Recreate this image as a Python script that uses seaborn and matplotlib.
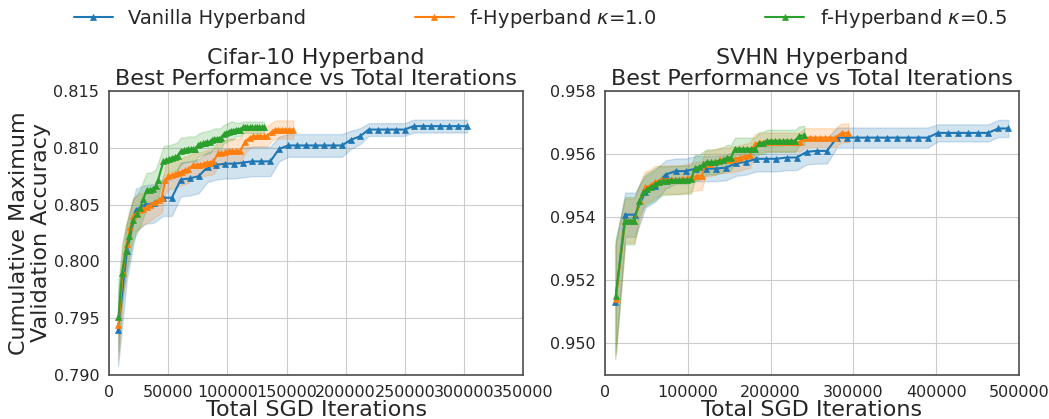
"""Cumulative best validation accuracy vs. total SGD iterations for Hyperband variants."""

import matplotlib
matplotlib.use("Agg")
import matplotlib.pyplot as plt
import numpy as np
import seaborn as sns

LABELS = ["Vanilla Hyperband", r"f-Hyperband $\kappa$=1.0", r"f-Hyperband $\kappa$=0.5"]
COLORS = ["#1f77b4", "#ff7f0e", "#2ca02c"]

# ---- Cifar-10 (x in thousands of SGD iterations) ----
CIFAR_VAN_X = [7.6, 15.1, 22.7, 30.3, 37.9, 45.4, 53.0, 60.6, 68.1, 75.7,
               83.3, 90.8, 98.4, 106.0, 113.6, 121.1, 128.7, 136.3, 143.8, 151.4,
               159.0, 166.5, 174.1, 181.7, 189.3, 196.8, 204.4, 212.0, 219.5, 227.1,
               234.7, 242.2, 249.8, 257.4, 265.0, 272.5, 280.1, 287.7, 295.2, 302.8]
CIFAR_VAN_Y = [0.7940, 0.8009, 0.8045, 0.8050, 0.8051, 0.8056, 0.8056, 0.8072, 0.8073, 0.8075,
               0.8083, 0.8085, 0.8086, 0.8086, 0.8087, 0.8088, 0.8088, 0.8088, 0.8099, 0.8102,
               0.8102, 0.8102, 0.8102, 0.8102, 0.8102, 0.8102, 0.8107, 0.8110, 0.8116, 0.8116,
               0.8116, 0.8116, 0.8116, 0.8119, 0.8119, 0.8119, 0.8119, 0.8119, 0.8119, 0.8119]
CIFAR_VAN_SD = [0.0032, 0.0024, 0.0019, 0.0017, 0.0017, 0.0016, 0.0016, 0.0015, 0.0015, 0.0015,
                0.0013, 0.0013, 0.0013, 0.0013, 0.0013, 0.0013, 0.0013, 0.0013, 0.0011, 0.0010,
                0.0010, 0.0010, 0.0010, 0.0010, 0.0010, 0.0010, 0.0008, 0.0007, 0.00056, 0.00056,
                0.00056, 0.00056, 0.00056, 0.00056, 0.00056, 0.00056, 0.00056, 0.00056, 0.00056, 0.00056]

CIFAR_K10_X = [7.9, 11.5, 15.0, 18.0, 20.5, 23.5, 26.2, 29.0, 31.9, 35.0,
               38.9, 42.0, 44.5, 47.5, 50.1, 53.0, 55.8, 58.5, 61.4, 64.0,
               67.0, 71.2, 74.0, 76.9, 80.0, 82.6, 85.5, 88.1, 92.4, 95.0,
               98.0, 101.0, 103.7, 107.0, 110.7, 114.9, 119.1, 122.0, 124.8, 128.0,
               131.0, 133.3, 137.5, 140.5, 143.1, 146.0, 149.0, 152.0, 155.7]
CIFAR_K10_Y = [0.7944, 0.7990, 0.8015, 0.8030, 0.8040, 0.8043, 0.8045, 0.8046, 0.8048, 0.8050,
               0.8052, 0.8054, 0.8056, 0.8072, 0.8075, 0.8076, 0.8077, 0.8078, 0.8079, 0.8080,
               0.8081, 0.8085, 0.8085, 0.8085, 0.8086, 0.8087, 0.8087, 0.8088, 0.8095, 0.8095,
               0.8096, 0.8097, 0.8097, 0.8097, 0.8097, 0.8105, 0.8109, 0.8110, 0.8110, 0.8110,
               0.8110, 0.8110, 0.8114, 0.8116, 0.8116, 0.8116, 0.8116, 0.8116, 0.8116]
CIFAR_K10_SD = [0.0030, 0.0026, 0.0020, 0.0018, 0.0016, 0.0015, 0.0015, 0.0014, 0.0014, 0.0014,
                0.0013, 0.0013, 0.0013, 0.0012, 0.0012, 0.0012, 0.0012, 0.0012, 0.0012, 0.0012,
                0.0012, 0.0011, 0.0011, 0.0011, 0.0011, 0.0011, 0.0011, 0.0011, 0.0011, 0.0011,
                0.0011, 0.0011, 0.0011, 0.0011, 0.0011, 0.0010, 0.0009, 0.0009, 0.0009, 0.0009,
                0.0009, 0.0009, 0.0008, 0.0008, 0.0008, 0.0008, 0.0008, 0.0008, 0.0008]

CIFAR_K05_X = [7.9, 11.0, 14.0, 17.0, 20.0, 23.5, 26.2, 29.0, 31.9, 34.5,
               37.0, 39.5, 41.5, 45.9, 48.0, 50.5, 53.0, 56.0, 58.0, 60.5,
               63.0, 65.0, 67.0, 69.0, 71.0, 73.0, 75.0, 77.0, 79.0, 81.0,
               83.0, 85.0, 87.0, 89.0, 91.0, 93.0, 95.0, 97.0, 99.0, 101.0,
               103.0, 105.0, 107.0, 109.0, 111.0, 113.0, 115.0, 117.0, 119.0, 121.0,
               123.0, 125.0, 127.0, 129.0, 131.0]
CIFAR_K05_Y = [0.7951, 0.7990, 0.8009, 0.8022, 0.8036, 0.8042, 0.8047, 0.8055, 0.8063, 0.8063,
               0.8064, 0.8066, 0.8072, 0.8088, 0.8089, 0.8090, 0.8091, 0.8092, 0.8093, 0.8097,
               0.8098, 0.8098, 0.8099, 0.8099, 0.8099, 0.8099, 0.8102, 0.8103, 0.8104, 0.8104,
               0.8105, 0.8105, 0.8107, 0.8108, 0.8108, 0.8108, 0.8109, 0.8112, 0.8113, 0.8114,
               0.8115, 0.8115, 0.8116, 0.8116, 0.8116, 0.8118, 0.8118, 0.8118, 0.8118, 0.8118,
               0.8118, 0.8118, 0.8118, 0.8118, 0.8118]
CIFAR_K05_SD = [0.0030, 0.0025, 0.0022, 0.0020, 0.0018, 0.0017, 0.0016, 0.0016, 0.0015, 0.0015,
                0.0015, 0.0015, 0.0015, 0.0013, 0.0013, 0.0012, 0.0012, 0.0012, 0.0012, 0.0012,
                0.0011, 0.0011, 0.0011, 0.0011, 0.0011, 0.0011, 0.0010, 0.0010, 0.0010, 0.0010,
                0.0010, 0.0010, 0.0009, 0.0009, 0.0009, 0.0009, 0.0009, 0.0008, 0.0008, 0.0008,
                0.0008, 0.0008, 0.0006, 0.0006, 0.0006, 0.0005, 0.0005, 0.0005, 0.0005, 0.0005,
                0.0005, 0.0005, 0.0005, 0.0005, 0.0005]

# ---- SVHN ----
SVHN_VAN_X = [12.2, 24.4, 36.5, 48.7, 60.9, 73.1, 85.3, 97.4, 109.6, 121.8,
              134.0, 146.2, 158.3, 170.5, 182.7, 194.9, 207.1, 219.2, 231.4, 243.6,
              255.8, 268.0, 280.1, 292.3, 304.5, 316.7, 328.9, 341.0, 353.2, 365.4,
              377.6, 389.8, 401.9, 414.1, 426.3, 438.5, 450.7, 462.8, 475.0, 487.2]
SVHN_VAN_Y = [0.9513, 0.95408, 0.95408, 0.9548, 0.9550, 0.95535, 0.95546, 0.95546, 0.95554, 0.95554,
              0.95554, 0.95557, 0.95571, 0.95575, 0.95585, 0.95585, 0.95585, 0.95589, 0.95589, 0.95607,
              0.9561, 0.9561, 0.95652, 0.95652, 0.95652, 0.95652, 0.95652, 0.95652, 0.95652, 0.95652,
              0.95652, 0.95652, 0.95667, 0.95667, 0.95667, 0.95667, 0.95667, 0.95667, 0.95681, 0.95681]
SVHN_VAN_SD = [0.0018, 0.0007, 0.0007, 0.0005, 0.0005, 0.00045, 0.0004, 0.0004, 0.0004, 0.0004,
               0.0004, 0.0004, 0.0004, 0.0004, 0.0004, 0.0004, 0.0004, 0.0004, 0.0004, 0.0004,
               0.0004, 0.0004, 0.00032, 0.00032, 0.00032, 0.00032, 0.00032, 0.00032, 0.00032, 0.00032,
               0.00032, 0.00032, 0.00027, 0.00027, 0.00027, 0.00027, 0.00027, 0.00027, 0.00027, 0.00027]

SVHN_K10_X = [12.9, 24.2, 35.4, 42.3, 48.3, 54.3, 60.4, 68.5, 74.9, 80.9,
              87.0, 93.0, 99.0, 105.0, 111.0, 117.0, 121.0, 127.0, 133.0, 139.0,
              145.0, 151.0, 157.0, 163.0, 169.0, 175.0, 181.0, 187.0, 193.0, 199.0,
              205.0, 211.0, 217.0, 223.0, 229.0, 235.0, 242.0, 248.0, 254.0, 260.0,
              266.0, 272.0, 278.0, 286.0, 294.0]
SVHN_K10_Y = [0.9514, 0.95389, 0.95389, 0.9545, 0.95495, 0.9550, 0.95512, 0.95519, 0.95519, 0.95519,
              0.95519, 0.9552, 0.95523, 0.95527, 0.9553, 0.95532, 0.9557, 0.9557, 0.95575, 0.9558,
              0.9558, 0.95582, 0.95585, 0.95588, 0.95593, 0.95596, 0.95633, 0.95635, 0.95638, 0.95638,
              0.95638, 0.95638, 0.95638, 0.95638, 0.95638, 0.95638, 0.95652, 0.95652, 0.95652, 0.95652,
              0.95652, 0.95652, 0.95652, 0.95667, 0.95667]
SVHN_K10_SD = [0.0018, 0.0007, 0.0007, 0.0006, 0.0005, 0.0005, 0.0005, 0.00045, 0.00045, 0.00045,
               0.00045, 0.00045, 0.00045, 0.00045, 0.00045, 0.00045, 0.0004, 0.0004, 0.0004, 0.0004,
               0.0004, 0.0004, 0.0004, 0.0004, 0.0004, 0.0004, 0.0003, 0.0003, 0.0003, 0.0003,
               0.0003, 0.0003, 0.0003, 0.0003, 0.0003, 0.0003, 0.0003, 0.0003, 0.0003, 0.0003,
               0.0003, 0.0003, 0.0003, 0.0003, 0.0003]

SVHN_K05_X = [12.9, 24.2, 30.2, 35.4, 41.1, 46.3, 50.7, 55.6, 60.4, 65.2,
              70.0, 74.9, 79.7, 84.5, 89.4, 94.2, 99.0, 103.9, 108.7, 113.5,
              118.4, 123.2, 128.0, 132.8, 137.7, 142.5, 147.3, 152.2, 157.0, 161.8,
              166.7, 171.5, 176.3, 181.2, 186.0, 190.8, 195.7, 200.5, 205.3, 210.1,
              215.0, 219.8, 224.6, 229.5, 234.3, 240.7]
SVHN_K05_Y = [0.9515, 0.95389, 0.95389, 0.95389, 0.9545, 0.95479, 0.9549, 0.95497, 0.95505, 0.95513,
              0.95515, 0.95516, 0.95517, 0.95517, 0.95518, 0.95519, 0.95519, 0.9552, 0.95557, 0.95558,
              0.95567, 0.95575, 0.95575, 0.95575, 0.95578, 0.95582, 0.95589, 0.95589, 0.95617, 0.95617,
              0.95617, 0.95617, 0.95617, 0.95617, 0.95635, 0.95635, 0.95642, 0.95642, 0.95642, 0.95642,
              0.95642, 0.95642, 0.95642, 0.95642, 0.95657, 0.9566]
SVHN_K05_SD = [0.0018, 0.00075, 0.00075, 0.00075, 0.0005, 0.0005, 0.0005, 0.0005, 0.0005, 0.0005,
               0.00045, 0.00045, 0.00045, 0.00045, 0.00045, 0.00045, 0.00045, 0.00045, 0.0004, 0.0004,
               0.0004, 0.0004, 0.0004, 0.0004, 0.0004, 0.0004, 0.0004, 0.0004, 0.00035, 0.00035,
               0.00035, 0.00035, 0.00035, 0.00035, 0.00035, 0.00035, 0.00035, 0.00035, 0.00035, 0.00035,
               0.00035, 0.00035, 0.00035, 0.00035, 0.0003, 0.0003]


def draw(ax, series, title, xlim, ylim, yticks, xticks):
    for (xs, ys, sds), label, color in zip(series, LABELS, COLORS):
        x = np.asarray(xs) * 1000
        y = np.asarray(ys)
        sd = np.asarray(sds)
        ax.fill_between(x, y - sd, y + sd, color=color, alpha=0.2)
        sns.lineplot(x=x, y=y, ax=ax, color=color, label=label, marker="^",
                     markersize=5, markeredgecolor=color, markeredgewidth=0.5,
                     linewidth=1.5)
    ax.set_title(title, fontsize=16, color="#262626", pad=4, linespacing=1.1)
    ax.set_xlim(*xlim)
    ax.set_ylim(*ylim)
    ax.set_xticks(xticks)
    ax.set_yticks(yticks)
    ax.set_xticklabels([str(t) for t in xticks])
    ax.set_yticklabels([f"{t:.3f}" for t in yticks])
    ax.set_xlabel("Total SGD Iterations", fontsize=16, color="#262626", labelpad=0)
    ax.get_legend().remove()


def main() -> None:
    sns.set_style("whitegrid", {"axes.edgecolor": ".3", "grid.color": ".8",
                                "xtick.bottom": False, "ytick.left": False})
    plt.rcParams["font.family"] = ["DejaVu Sans"]
    plt.rcParams["xtick.labelsize"] = 11.5
    plt.rcParams["ytick.labelsize"] = 11.5
    plt.rcParams["axes.linewidth"] = 1.2

    fig, (ax1, ax2) = plt.subplots(1, 2, figsize=(10.49, 4.19), dpi=100)
    fig.subplots_adjust(left=0.104, right=0.9714, bottom=0.105, top=0.783, wspace=0.198)

    draw(ax1, [(CIFAR_VAN_X, CIFAR_VAN_Y, CIFAR_VAN_SD),
               (CIFAR_K10_X, CIFAR_K10_Y, CIFAR_K10_SD),
               (CIFAR_K05_X, CIFAR_K05_Y, CIFAR_K05_SD)],
         "Cifar-10 Hyperband\nBest Performance vs Total Iterations",
         (0, 350000), (0.790, 0.815),
         [0.790, 0.795, 0.800, 0.805, 0.810, 0.815],
         list(range(0, 350001, 50000)))
    draw(ax2, [(SVHN_VAN_X, SVHN_VAN_Y, SVHN_VAN_SD),
               (SVHN_K10_X, SVHN_K10_Y, SVHN_K10_SD),
               (SVHN_K05_X, SVHN_K05_Y, SVHN_K05_SD)],
         "SVHN Hyperband\nBest Performance vs Total Iterations",
         (0, 500000), (0.949, 0.958),
         [0.950, 0.952, 0.954, 0.956, 0.958],
         list(range(0, 500001, 100000)))
    ax1.set_ylabel("Cumulative Maximum\nValidation Accuracy", fontsize=16,
                   color="#262626", labelpad=2, linespacing=1.1)

    handles, labels = ax1.get_legend_handles_labels()
    fig.legend(handles, labels, loc="upper center", ncol=3, frameon=False,
               bbox_to_anchor=(0.515, 1.025), fontsize=14, columnspacing=5.6,
               handlelength=2)

    fig.savefig("out.png", dpi=100)


if __name__ == "__main__":
    main()
